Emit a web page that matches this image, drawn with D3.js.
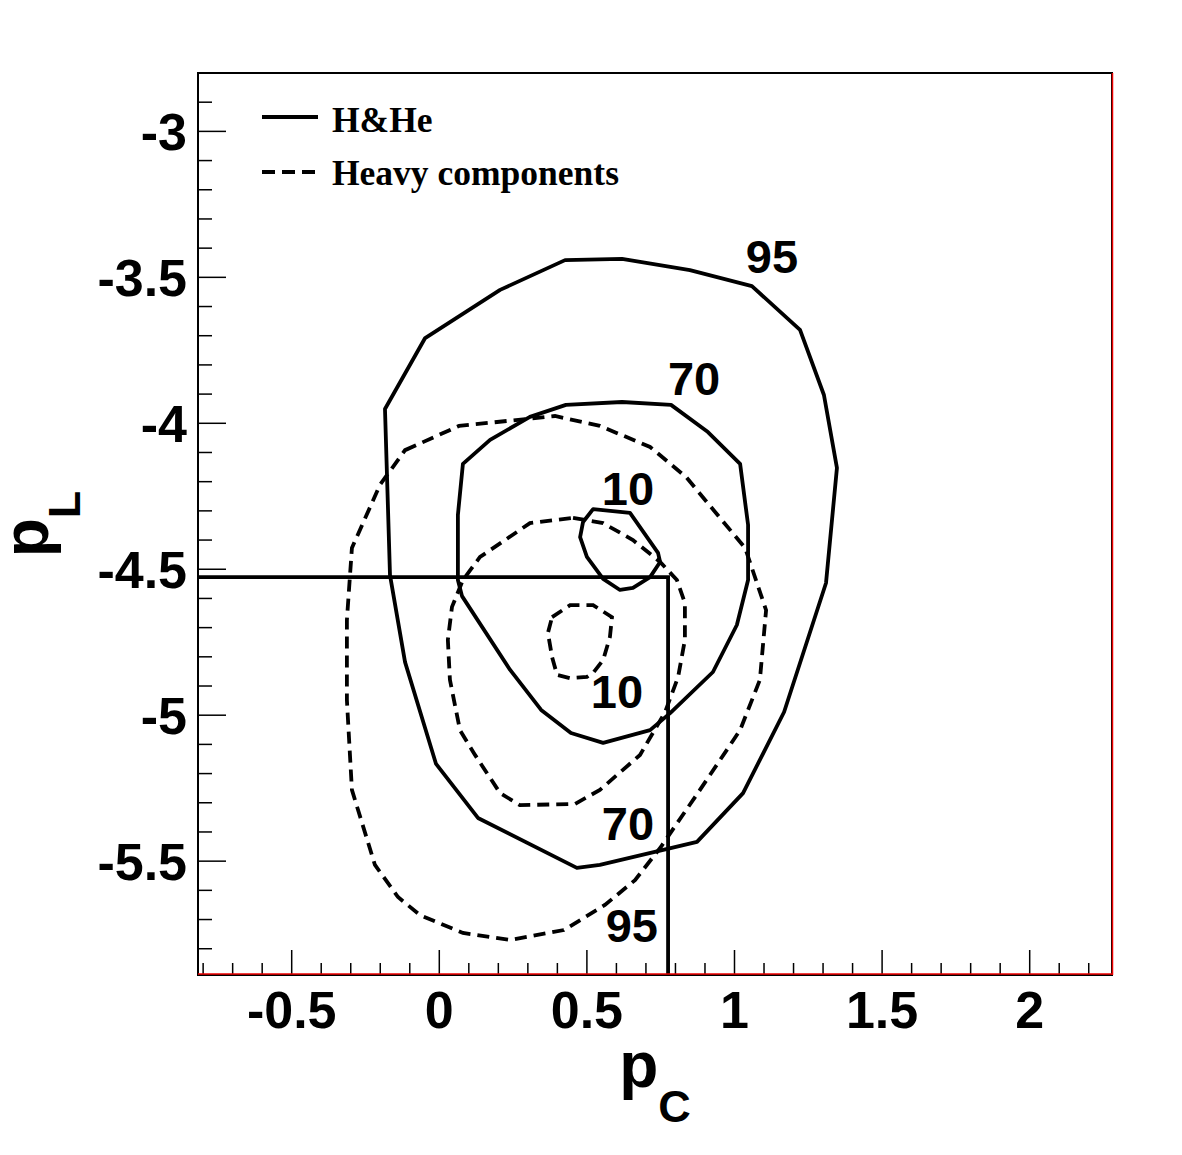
<!DOCTYPE html>
<html lang="en">
<head>
  <meta charset="UTF-8" />
  <title>pL vs pC contours</title>
  <style>
    html, body { margin: 0; padding: 0; background: #fff; }
    svg { display: block; }
    .tick-label { font-family: "Liberation Sans", Arial, sans-serif; font-weight: bold; font-size: 52px; }
    .contour-label { font-family: "Liberation Sans", Arial, sans-serif; font-weight: bold; font-size: 47px; }
    .legend-text { font-family: "Liberation Serif", "Times New Roman", serif; font-weight: bold; font-size: 35.5px; }
    .axis-title { font-family: "Liberation Sans", Arial, sans-serif; font-weight: bold; }
  </style>
</head>
<body>
  <script src="https://d3js.org/d3.v7.min.js"></script>
  <script>
    // contour levels, [pC, pL] pairs
    const hhe95 = [[-0.048,-3.708],[0.206,-3.543],[0.426,-3.441],[0.619,-3.437],[0.849,-3.475],[1.059,-3.530],
      [1.222,-3.680],[1.303,-3.903],[1.347,-4.153],[1.310,-4.547],[1.168,-4.989],[1.029,-5.267],[0.873,-5.434],
      [0.544,-5.513],[0.466,-5.523],[0.131,-5.352],[-0.011,-5.167],[-0.116,-4.818],[-0.167,-4.520],[-0.184,-3.951]];
    const hhe70 = [[0.080,-4.139],[0.172,-4.057],[0.307,-3.978],[0.429,-3.937],[0.619,-3.927],[0.785,-3.937],
      [0.910,-4.030],[1.019,-4.139],[1.046,-4.348],[1.046,-4.537],[1.008,-4.691],[0.927,-4.852],[0.782,-4.993],
      [0.714,-5.051],[0.555,-5.095],[0.446,-5.061],[0.345,-4.982],[0.240,-4.845],[0.077,-4.592],[0.063,-4.537],[0.063,-4.314]];
    const hhe10 = [[0.521,-4.294],[0.646,-4.307],[0.741,-4.444],[0.748,-4.475],[0.714,-4.527],[0.656,-4.564],
      [0.612,-4.571],[0.555,-4.533],[0.500,-4.458],[0.477,-4.390],[0.487,-4.338]];
    const heavy95 = [[-0.116,-4.092],[0.067,-4.009],[0.392,-3.975],[0.544,-4.009],[0.714,-4.081],[0.836,-4.184],
      [0.951,-4.324],[1.036,-4.427],[1.107,-4.640],[1.086,-4.879],[1.019,-5.051],[0.883,-5.256],[0.748,-5.455],
      [0.663,-5.565],[0.561,-5.650],[0.422,-5.736],[0.240,-5.770],[0.080,-5.746],[-0.065,-5.685],[-0.140,-5.623],
      [-0.218,-5.513],[-0.296,-5.256],[-0.313,-4.948],[-0.313,-4.674],[-0.296,-4.427],[-0.201,-4.211]];
    const heavy70 = [[0.453,-4.324],[0.555,-4.342],[0.656,-4.400],[0.748,-4.475],[0.805,-4.537],[0.832,-4.616],
      [0.832,-4.742],[0.809,-4.869],[0.765,-4.989],[0.680,-5.136],[0.544,-5.256],[0.460,-5.304],[0.273,-5.308],
      [0.206,-5.267],[0.121,-5.136],[0.070,-5.051],[0.036,-4.879],[0.029,-4.742],[0.043,-4.629],[0.080,-4.537],
      [0.138,-4.458],[0.307,-4.342]];
    const heavy10 = [[0.382,-4.664],[0.443,-4.623],[0.521,-4.623],[0.585,-4.664],[0.578,-4.732],[0.555,-4.811],
      [0.521,-4.855],[0.500,-4.869],[0.443,-4.873],[0.399,-4.862],[0.382,-4.801],[0.368,-4.718]];

    // level labels: text, pC, pL (baseline)
    const levelLabels = [["95",1.127,-3.485],["70",0.863,-3.903],["10",0.639,-4.280],
      ["10",0.602,-4.975],["70",0.639,-5.428],["95",0.652,-5.777]];

    const markPoint = [0.775, -4.527];
    const xTicks = [-0.5, 0, 0.5, 1, 1.5, 2];
    const yTicks = [-3, -3.5, -4, -4.5, -5, -5.5];

    const W = 1182, H = 1155;
    const fLeft = 198, fRight = 1112, fTop = 73, fBottom = 975;
    const lw = 3.8;

    const x = d3.scaleLinear().domain([-0.8174, 2.2788]).range([fLeft, fRight]);
    const y = d3.scaleLinear().domain([-2.8, -5.890]).range([fTop, fBottom]);

    const svg = d3.select("body").append("svg").attr("width", W).attr("height", H);
    svg.append("rect").attr("width", W).attr("height", H).attr("fill", "#fff");

    const clip = svg.append("clipPath").attr("id", "frame");
    clip.append("rect").attr("x", fLeft).attr("y", fTop).attr("width", fRight - fLeft).attr("height", fBottom - fTop);

    const plot = svg.append("g").attr("clip-path", "url(#frame)");
    const line = d3.line().x(d => x(d[0])).y(d => y(d[1])).curve(d3.curveLinearClosed);

    [hhe95, hhe70, hhe10].forEach(c => {
      plot.append("path").attr("d", line(c)).attr("fill", "none")
        .attr("stroke", "#000").attr("stroke-width", lw).attr("stroke-linejoin", "round");
    });
    [heavy95, heavy70, heavy10].forEach(c => {
      plot.append("path").attr("d", line(c)).attr("fill", "none")
        .attr("stroke", "#000").attr("stroke-width", lw).attr("stroke-dasharray", "12,7");
    });

    // marker lines
    plot.append("path")
      .attr("d", `M${fLeft},${y(markPoint[1])}H${x(markPoint[0])}V${fBottom}`)
      .attr("fill", "none").attr("stroke", "#000").attr("stroke-width", lw);

    levelLabels.forEach(([t, px, py]) => {
      svg.append("text").attr("class", "contour-label")
        .attr("x", x(px)).attr("y", y(py)).attr("text-anchor", "middle").text(t);
    });

    // ticks (left and bottom only)
    const axes = svg.append("g").attr("stroke", "#000").attr("stroke-width", 1.5);
    d3.range(-8, 23).forEach(i => {
      const v = i / 10;
      const major = i % 5 === 0;
      axes.append("line").attr("x1", x(v)).attr("x2", x(v))
        .attr("y1", fBottom).attr("y2", fBottom - (major ? 25 : 12));
    });
    d3.range(28, 59).forEach(i => {
      const v = -i / 10;
      const major = i % 5 === 0;
      axes.append("line").attr("y1", y(v)).attr("y2", y(v))
        .attr("x1", fLeft).attr("x2", fLeft + (major ? 28 : 14));
    });

    // frame
    svg.append("rect").attr("x", fLeft).attr("y", fTop).attr("width", fRight - fLeft).attr("height", fBottom - fTop)
      .attr("fill", "none").attr("stroke", "#000").attr("stroke-width", 2);
    svg.append("line").attr("x1", fLeft).attr("x2", fRight).attr("y1", fBottom - 1).attr("y2", fBottom - 1)
      .attr("stroke", "#e00").attr("stroke-width", 1.5);
    svg.append("line").attr("x1", fRight + 0.5).attr("x2", fRight + 0.5).attr("y1", fTop).attr("y2", fBottom)
      .attr("stroke", "#e00").attr("stroke-width", 1.5);

    xTicks.forEach(v => {
      svg.append("text").attr("class", "tick-label").attr("x", x(v)).attr("y", 1028)
        .attr("text-anchor", "middle").text(v);
    });
    yTicks.forEach(v => {
      svg.append("text").attr("class", "tick-label").attr("x", 187).attr("y", y(v) + 19)
        .attr("text-anchor", "end").text(v);
    });

    // axis titles
    const xt = svg.append("text").attr("class", "axis-title").attr("x", (fLeft + fRight) / 2).attr("y", 1087)
      .attr("text-anchor", "middle");
    xt.append("tspan").attr("font-size", 64).text("p");
    xt.append("tspan").attr("font-size", 45).attr("dy", 35).text("C");

    const yt = svg.append("text").attr("class", "axis-title")
      .attr("transform", `translate(48,${(fTop + fBottom) / 2}) rotate(-90)`).attr("text-anchor", "middle");
    yt.append("tspan").attr("font-size", 64).text("p");
    yt.append("tspan").attr("font-size", 45).attr("dy", 32).text("L");

    // legend
    const legend = [["H&He", null, 117, 132], ["Heavy components", "13,7", 172, 185]];
    legend.forEach(([label, dash, ly, by]) => {
      svg.append("line").attr("x1", 262).attr("x2", 318).attr("y1", ly).attr("y2", ly)
        .attr("stroke", "#000").attr("stroke-width", lw).attr("stroke-dasharray", dash);
      svg.append("text").attr("class", "legend-text").attr("x", 332).attr("y", by).text(label);
    });
  </script>
</body>
</html>
